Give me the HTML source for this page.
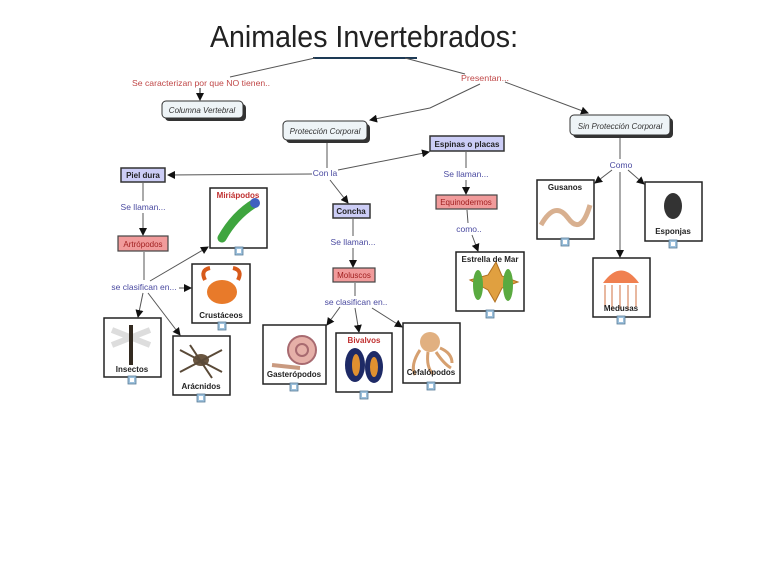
<!DOCTYPE html>
<html><head><meta charset="utf-8"><style>
html,body{margin:0;padding:0;background:#fff;}
svg{display:block;font-family:"Liberation Sans","DejaVu Sans",sans-serif;}
.lk{font-size:8.5px;fill:#4a4aa0;}
.lr{font-size:8.5px;fill:#c04848;}
.b{font-size:8px;font-weight:bold;fill:#222;}
</style></head><body>
<svg width="768" height="561" viewBox="0 0 768 561">
<defs>
<marker id="a" markerWidth="8" markerHeight="8" refX="7" refY="4" orient="auto" markerUnits="userSpaceOnUse"><path d="M0,0 L8,4 L0,8 z" fill="#111"/></marker>
<g id="ic"><rect x="-4" y="-4" width="8" height="8" fill="#9cc0dc" stroke="#5a7d99" stroke-width="0.8"/><rect x="-2" y="-2" width="4" height="4" fill="#fff"/></g>
</defs>
<text x="364" y="47" font-size="31" text-anchor="middle" textLength="308" lengthAdjust="spacingAndGlyphs" fill="#222">Animales Invertebrados:</text>
<line x1="313" y1="58" x2="417" y2="58" stroke="#1d3a55" stroke-width="2"/>
<g stroke="#555" stroke-width="1" fill="none">
<line x1="315" y1="58" x2="230" y2="77"/>
<line x1="405" y1="58" x2="465" y2="74"/>
<line x1="200" y1="88" x2="200" y2="100" marker-end="url(#a)" stroke="#111"/>
<polyline points="480,84 430,108 370,120" marker-end="url(#a)"/>
<line x1="505" y1="82" x2="588" y2="113" marker-end="url(#a)"/>
<line x1="327" y1="141" x2="327" y2="168"/>
<line x1="312" y1="174" x2="168" y2="175" marker-end="url(#a)"/>
<line x1="338" y1="170" x2="429" y2="152" marker-end="url(#a)"/>
<line x1="330" y1="180" x2="348" y2="203" marker-end="url(#a)"/>
<line x1="143" y1="183" x2="143" y2="201"/>
<line x1="143" y1="213" x2="143" y2="235" marker-end="url(#a)"/>
<line x1="353" y1="219" x2="353" y2="236"/>
<line x1="353" y1="248" x2="353" y2="267" marker-end="url(#a)"/>
<line x1="466" y1="152" x2="466" y2="168"/>
<line x1="466" y1="180" x2="466" y2="194" marker-end="url(#a)"/>
<line x1="467" y1="210" x2="468" y2="223"/>
<line x1="472" y1="235" x2="478" y2="251" marker-end="url(#a)"/>
<line x1="144" y1="252" x2="144" y2="280"/>
<line x1="150" y1="281" x2="208" y2="247" marker-end="url(#a)"/>
<line x1="179" y1="288" x2="191" y2="288" marker-end="url(#a)"/>
<line x1="143" y1="293" x2="138" y2="317" marker-end="url(#a)"/>
<line x1="148" y1="293" x2="180" y2="335" marker-end="url(#a)"/>
<line x1="355" y1="283" x2="355" y2="296"/>
<line x1="340" y1="307" x2="327" y2="325" marker-end="url(#a)"/>
<line x1="355" y1="308" x2="359" y2="332" marker-end="url(#a)"/>
<line x1="372" y1="308" x2="402" y2="327" marker-end="url(#a)"/>
<line x1="620" y1="136" x2="620" y2="159"/>
<line x1="612" y1="170" x2="595" y2="183" marker-end="url(#a)"/>
<line x1="620" y1="172" x2="620" y2="257" marker-end="url(#a)"/>
<line x1="628" y1="170" x2="644" y2="184" marker-end="url(#a)"/>
</g>
<text x="132" y="86" class="lr" textLength="138" lengthAdjust="spacingAndGlyphs">Se caracterizan por que NO tienen..</text>
<text x="461" y="81" class="lr" textLength="48" lengthAdjust="spacingAndGlyphs">Presentan...</text>
<!-- gray rounded nodes -->
<g fill="#333"><rect x="165" y="104" width="81" height="17" rx="4"/><rect x="286" y="124" width="84" height="19" rx="4"/><rect x="573" y="118" width="100" height="20" rx="4"/></g>
<g fill="#eef4f7" stroke="#333" stroke-width="1"><rect x="162" y="101" width="81" height="17" rx="4"/><rect x="283" y="121" width="84" height="19" rx="4"/><rect x="570" y="115" width="100" height="20" rx="4"/></g>
<g font-size="8" font-style="italic" fill="#333"><text x="202" y="113" text-anchor="middle">Columna Vertebral</text><text x="325" y="134" text-anchor="middle">Protección Corporal</text><text x="620" y="129" text-anchor="middle">Sin Protección Corporal</text></g>
<!-- blue nodes -->
<g fill="#cccdf6" stroke="#333" stroke-width="1.5"><rect x="121" y="168" width="44" height="14"/><rect x="430" y="136" width="74" height="15"/><rect x="333" y="204" width="37" height="14"/></g>
<g class="b" font-size="8" text-anchor="middle" fill="#2a2a60"><text x="143" y="178">Piel dura</text><text x="467" y="147">Espinas o placas</text><text x="351" y="214">Concha</text></g>
<!-- red nodes -->
<g fill="#f19b9b" stroke="#444" stroke-width="1.2"><rect x="118" y="236" width="50" height="15"/><rect x="333" y="268" width="42" height="14"/><rect x="436" y="195" width="61" height="14"/></g>
<g font-size="8" text-anchor="middle" fill="#a02020"><text x="143" y="247">Artrópodos</text><text x="354" y="278">Moluscos</text><text x="466" y="205">Equinodermos</text></g>
<g class="lk" text-anchor="middle"><text x="325" y="176">Con la</text><text x="143" y="210">Se llaman...</text><text x="353" y="245">Se llaman...</text><text x="466" y="177">Se llaman...</text><text x="469" y="232">como..</text><text x="144" y="290">se clasifican en...</text><text x="356" y="305">se clasifican en..</text><text x="621" y="168">Como</text></g>
<!-- picture nodes -->
<g fill="#fff" stroke="#222" stroke-width="1.5">
<rect x="210" y="188" width="57" height="60"/><rect x="192" y="264" width="58" height="59"/><rect x="104" y="318" width="57" height="59"/><rect x="173" y="336" width="57" height="59"/>
<rect x="263" y="325" width="63" height="59"/><rect x="336" y="333" width="56" height="59"/><rect x="403" y="323" width="57" height="60"/>
<rect x="456" y="252" width="68" height="59"/><rect x="537" y="180" width="57" height="59"/><rect x="645" y="182" width="57" height="59"/><rect x="593" y="258" width="57" height="59"/>
</g>
<!-- images approximations -->
<g>
<path d="M222,238 Q235,215 255,203" stroke="#3fa53f" stroke-width="9" fill="none" stroke-linecap="round"/><circle cx="255" cy="203" r="5" fill="#4060c0"/>
<ellipse cx="222" cy="292" rx="15" ry="12" fill="#e87a2a"/><path d="M205,280 q-5,-10 5,-12 M238,280 q5,-10 -5,-12" stroke="#d85a1a" stroke-width="4" fill="none"/>
<path d="M112,330 L150,345 M112,345 L150,330" stroke="#ddd" stroke-width="6"/><line x1="131" y1="325" x2="131" y2="365" stroke="#332a20" stroke-width="4"/>
<ellipse cx="201" cy="360" rx="8" ry="6" fill="#6a5640"/><path d="M180,350 L222,372 M180,372 L222,350 M190,345 L212,378" stroke="#5a4a38" stroke-width="2"/>
<circle cx="302" cy="350" r="14" fill="#e6b0a8" stroke="#a86a70" stroke-width="2"/><circle cx="302" cy="350" r="6" fill="none" stroke="#a86a70" stroke-width="2"/><path d="M272,365 L300,368" stroke="#c99a80" stroke-width="4"/>
<ellipse cx="355" cy="365" rx="10" ry="17" fill="#1e2a66"/><ellipse cx="374" cy="367" rx="9" ry="16" fill="#1e2a66"/><ellipse cx="356" cy="365" rx="4" ry="11" fill="#e09030"/><ellipse cx="374" cy="367" rx="4" ry="10" fill="#e09030"/>
<circle cx="430" cy="342" r="10" fill="#e1b080"/><path d="M420,350 q-10,15 -5,25 M428,352 q-2,15 5,22 M436,352 q8,12 15,16 M440,348 q12,5 12,15" stroke="#d6a070" stroke-width="3" fill="none"/>
<path d="M470,280 L488,275 L496,262 L502,276 L518,282 L502,288 L495,302 L488,290 Z" fill="#e0a040" stroke="#b07020"/><ellipse cx="508" cy="285" rx="5" ry="16" fill="#5aaa40"/><ellipse cx="478" cy="285" rx="5" ry="15" fill="#5aaa40"/>
<path d="M541,225 Q555,200 568,218 T590,205" stroke="#d8b090" stroke-width="5" fill="none"/>
<ellipse cx="673" cy="206" rx="9" ry="13" fill="#333"/>
<path d="M603,283 Q621,258 639,283 Z" fill="#f08050"/><path d="M605,285 v22 M612,285 v25 M620,285 v24 M628,285 v25 M636,285 v22" stroke="#e0a080" stroke-width="1.5" fill="none"/>
</g>
<g class="b" text-anchor="middle">
<text x="238" y="198" fill="#c03030">Miriápodos</text><text x="221" y="318">Crustáceos</text><text x="132" y="372">Insectos</text><text x="201" y="389">Arácnidos</text>
<text x="294" y="377">Gasterópodos</text><text x="364" y="343" fill="#c03030">Bivalvos</text><text x="431" y="375">Cefalópodos</text>
<text x="490" y="262">Estrella de Mar</text><text x="565" y="190">Gusanos</text><text x="673" y="234">Esponjas</text><text x="621" y="311">Medusas</text>
</g>
<use href="#ic" x="239" y="251"/><use href="#ic" x="222" y="326"/><use href="#ic" x="132" y="380"/><use href="#ic" x="201" y="398"/>
<use href="#ic" x="294" y="387"/><use href="#ic" x="364" y="395"/><use href="#ic" x="431" y="386"/><use href="#ic" x="490" y="314"/>
<use href="#ic" x="565" y="242"/><use href="#ic" x="673" y="244"/><use href="#ic" x="621" y="320"/>
</svg>
</body></html>
